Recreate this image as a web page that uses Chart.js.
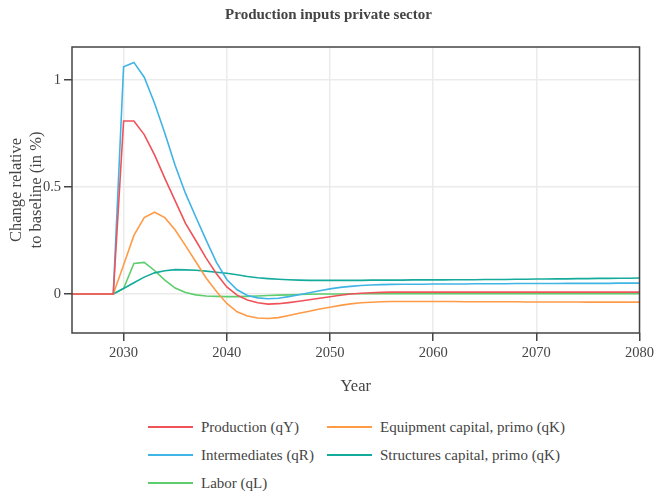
<!DOCTYPE html>
<html>
<head>
<meta charset="utf-8">
<script src="https://cdn.jsdelivr.net/npm/chart.js@4.4.1/dist/chart.umd.min.js"></script>
<style>
  body { margin: 0; background: #fff; }
  #wrap { position: relative; width: 657px; height: 497px; }
  #legend {
    position: absolute; left: 148px; top: 413px;
    display: grid; grid-template-columns: 179px auto; grid-auto-rows: 28px;
    font: 15px "Liberation Serif", "DejaVu Serif", serif; color: #444;
  }
  .item { display: flex; align-items: center; white-space: nowrap; }
  .swatch { width: 45px; height: 2px; margin-right: 8px; }
</style>
</head>
<body>
<div id="wrap">
  <canvas id="chart" width="657" height="400"></canvas>
  <div id="legend"></div>
</div>
<script>
const years = [2025, 2026, 2027, 2028, 2029,
  2030, 2031, 2032, 2033, 2034, 2035, 2036, 2037, 2038, 2039,
  2040, 2041, 2042, 2043, 2044, 2045, 2046, 2047, 2048, 2049,
  2050, 2051, 2052, 2053, 2054, 2055, 2056, 2057, 2058, 2059,
  2060, 2061, 2062, 2063, 2064, 2065, 2066, 2067, 2068, 2069,
  2070, 2071, 2072, 2073, 2074, 2075, 2076, 2077, 2078, 2079, 2080];

const production = [0, 0, 0, 0, 0,
  0.808, 0.808, 0.745, 0.65, 0.54, 0.435, 0.33, 0.25, 0.168, 0.095,
  0.033, -0.005, -0.028, -0.041, -0.047, -0.045, -0.04, -0.034, -0.027, -0.02,
  -0.013, -0.006, 0, 0.004, 0.006, 0.008, 0.009, 0.009, 0.009, 0.009,
  0.009, 0.009, 0.009, 0.009, 0.009, 0.009, 0.009, 0.009, 0.009, 0.009,
  0.009, 0.009, 0.009, 0.009, 0.009, 0.009, 0.009, 0.009, 0.009, 0.009, 0.009];

const intermediates = [0, 0, 0, 0, 0,
  1.062, 1.082, 1.013, 0.891, 0.751, 0.6, 0.47, 0.36, 0.252, 0.148,
  0.068, 0.02, -0.007, -0.018, -0.022, -0.02, -0.012, -0.003, 0.006, 0.015,
  0.024, 0.031, 0.036, 0.04, 0.042, 0.044, 0.045, 0.046, 0.046, 0.046,
  0.047, 0.047, 0.047, 0.047, 0.048, 0.048, 0.048, 0.048, 0.049, 0.049,
  0.049, 0.049, 0.049, 0.05, 0.05, 0.05, 0.05, 0.05, 0.051, 0.051, 0.051];

const labor = [0, 0, 0, 0, 0,
  0.026, 0.143, 0.148, 0.11, 0.065, 0.028, 0.007, -0.004, -0.009, -0.011,
  -0.012, -0.012, -0.011, -0.009, -0.007, -0.005, -0.004, -0.002, -0.001, 0,
  0, 0, 0.001, 0.001, 0.001, 0.001, 0.001, 0.001, 0.001, 0.001,
  0.001, 0.001, 0.001, 0.001, 0.001, 0.001, 0.001, 0.001, 0.001, 0.001,
  0.001, 0.001, 0.001, 0.001, 0.001, 0.001, 0.001, 0.001, 0.001, 0.001, 0.001];

const equipment = [0, 0, 0, 0, 0,
  0.136, 0.274, 0.357, 0.382, 0.357, 0.299, 0.226, 0.151, 0.075, 0.012,
  -0.044, -0.083, -0.103, -0.112, -0.114, -0.11, -0.1, -0.09, -0.08, -0.07,
  -0.062, -0.053, -0.046, -0.041, -0.038, -0.036, -0.035, -0.035, -0.035, -0.035,
  -0.035, -0.035, -0.035, -0.036, -0.036, -0.036, -0.036, -0.036, -0.036, -0.037,
  -0.037, -0.037, -0.037, -0.037, -0.037, -0.038, -0.038, -0.038, -0.038, -0.038, -0.038];

const structures = [0, 0, 0, 0, 0,
  0.026, 0.053, 0.079, 0.099, 0.109, 0.114, 0.113, 0.111, 0.107, 0.102,
  0.097, 0.09, 0.082, 0.076, 0.072, 0.069, 0.067, 0.065, 0.064, 0.064,
  0.064, 0.064, 0.064, 0.064, 0.065, 0.065, 0.065, 0.065, 0.066, 0.066,
  0.066, 0.066, 0.067, 0.067, 0.067, 0.068, 0.068, 0.068, 0.069, 0.069,
  0.07, 0.07, 0.071, 0.071, 0.072, 0.072, 0.073, 0.073, 0.074, 0.074, 0.075];

const xTicks = [2030, 2040, 2050, 2060, 2070, 2080];
const yTicks = [0, 0.5, 1];

const series = [
  { label: 'Production (qY)', data: production, color: '#ef5359' },
  { label: 'Equipment capital, primo (qK)', data: equipment, color: '#ff9b47' },
  { label: 'Intermediates (qR)', data: intermediates, color: '#40b4e5' },
  { label: 'Structures capital, primo (qK)', data: structures, color: '#14ab9c' },
  { label: 'Labor (qL)', data: labor, color: '#5dcd6d' }
];

const serif = '"Liberation Serif", "DejaVu Serif", serif';
const ink = '#444';

// box around the plotting area
const framePlugin = {
  id: 'frame',
  afterDatasetsDraw(chart) {
    const a = chart.chartArea, ctx = chart.ctx;
    ctx.save();
    ctx.strokeStyle = ink;
    ctx.lineWidth = 1.5;
    ctx.strokeRect(a.left, a.top, a.right - a.left, a.bottom - a.top);
    ctx.restore();
  }
};

new Chart(document.getElementById('chart'), {
  type: 'line',
  data: {
    labels: years,
    datasets: series.map(s => ({
      label: s.label,
      data: s.data,
      borderColor: s.color,
      backgroundColor: s.color,
      borderWidth: 1.6,
      pointRadius: 0,
      tension: 0,
      fill: false
    }))
  },
  options: {
    responsive: false,
    animation: false,
    layout: { padding: 0 },
    plugins: {
      legend: { display: false },
      tooltip: { enabled: false },
      title: {
        display: true,
        text: 'Production inputs private sector',
        color: ink,
        font: { family: serif, size: 15, weight: 'bold' },
        padding: { top: 6, bottom: 23 }
      }
    },
    scales: {
      x: {
        type: 'linear',
        min: 2025,
        max: 2080,
        afterBuildTicks: s => { s.ticks = xTicks.map(v => ({ value: v })); },
        afterFit: s => { s.height = 67; },
        ticks: {
          color: ink,
          font: { family: serif, size: 14.5 },
          padding: 3,
          maxRotation: 0,
          callback: v => String(v)
        },
        grid: { color: '#ebebeb', lineWidth: 1.5, tickLength: 8, tickColor: ink, tickWidth: 1.5 },
        border: { display: false },
        title: {
          display: true,
          text: 'Year',
          color: ink,
          font: { family: serif, size: 16.5 },
          padding: { top: 0, bottom: 3 }
        }
      },
      y: {
        min: -0.182,
        max: 1.154,
        afterBuildTicks: s => { s.ticks = yTicks.map(v => ({ value: v })); },
        afterFit: s => { s.width = 72; },
        ticks: {
          color: ink,
          font: { family: serif, size: 14.5 },
          padding: 3,
          callback: v => String(v)
        },
        grid: { color: '#ebebeb', lineWidth: 1.5, tickLength: 8, tickColor: ink, tickWidth: 1.5 },
        border: { display: false },
        title: {
          display: true,
          text: ['Change relative', 'to baseline (in %)'],
          color: ink,
          font: { family: serif, size: 16.5 },
          padding: { top: 7, bottom: 0 }
        }
      }
    }
  },
  plugins: [framePlugin]
});

// two-column legend under the chart
const legend = document.getElementById('legend');
series.forEach(s => {
  const item = document.createElement('div');
  item.className = 'item';
  const sw = document.createElement('span');
  sw.className = 'swatch';
  sw.style.background = s.color;
  item.appendChild(sw);
  item.appendChild(document.createTextNode(s.label));
  legend.appendChild(item);
});
</script>
</body>
</html>
